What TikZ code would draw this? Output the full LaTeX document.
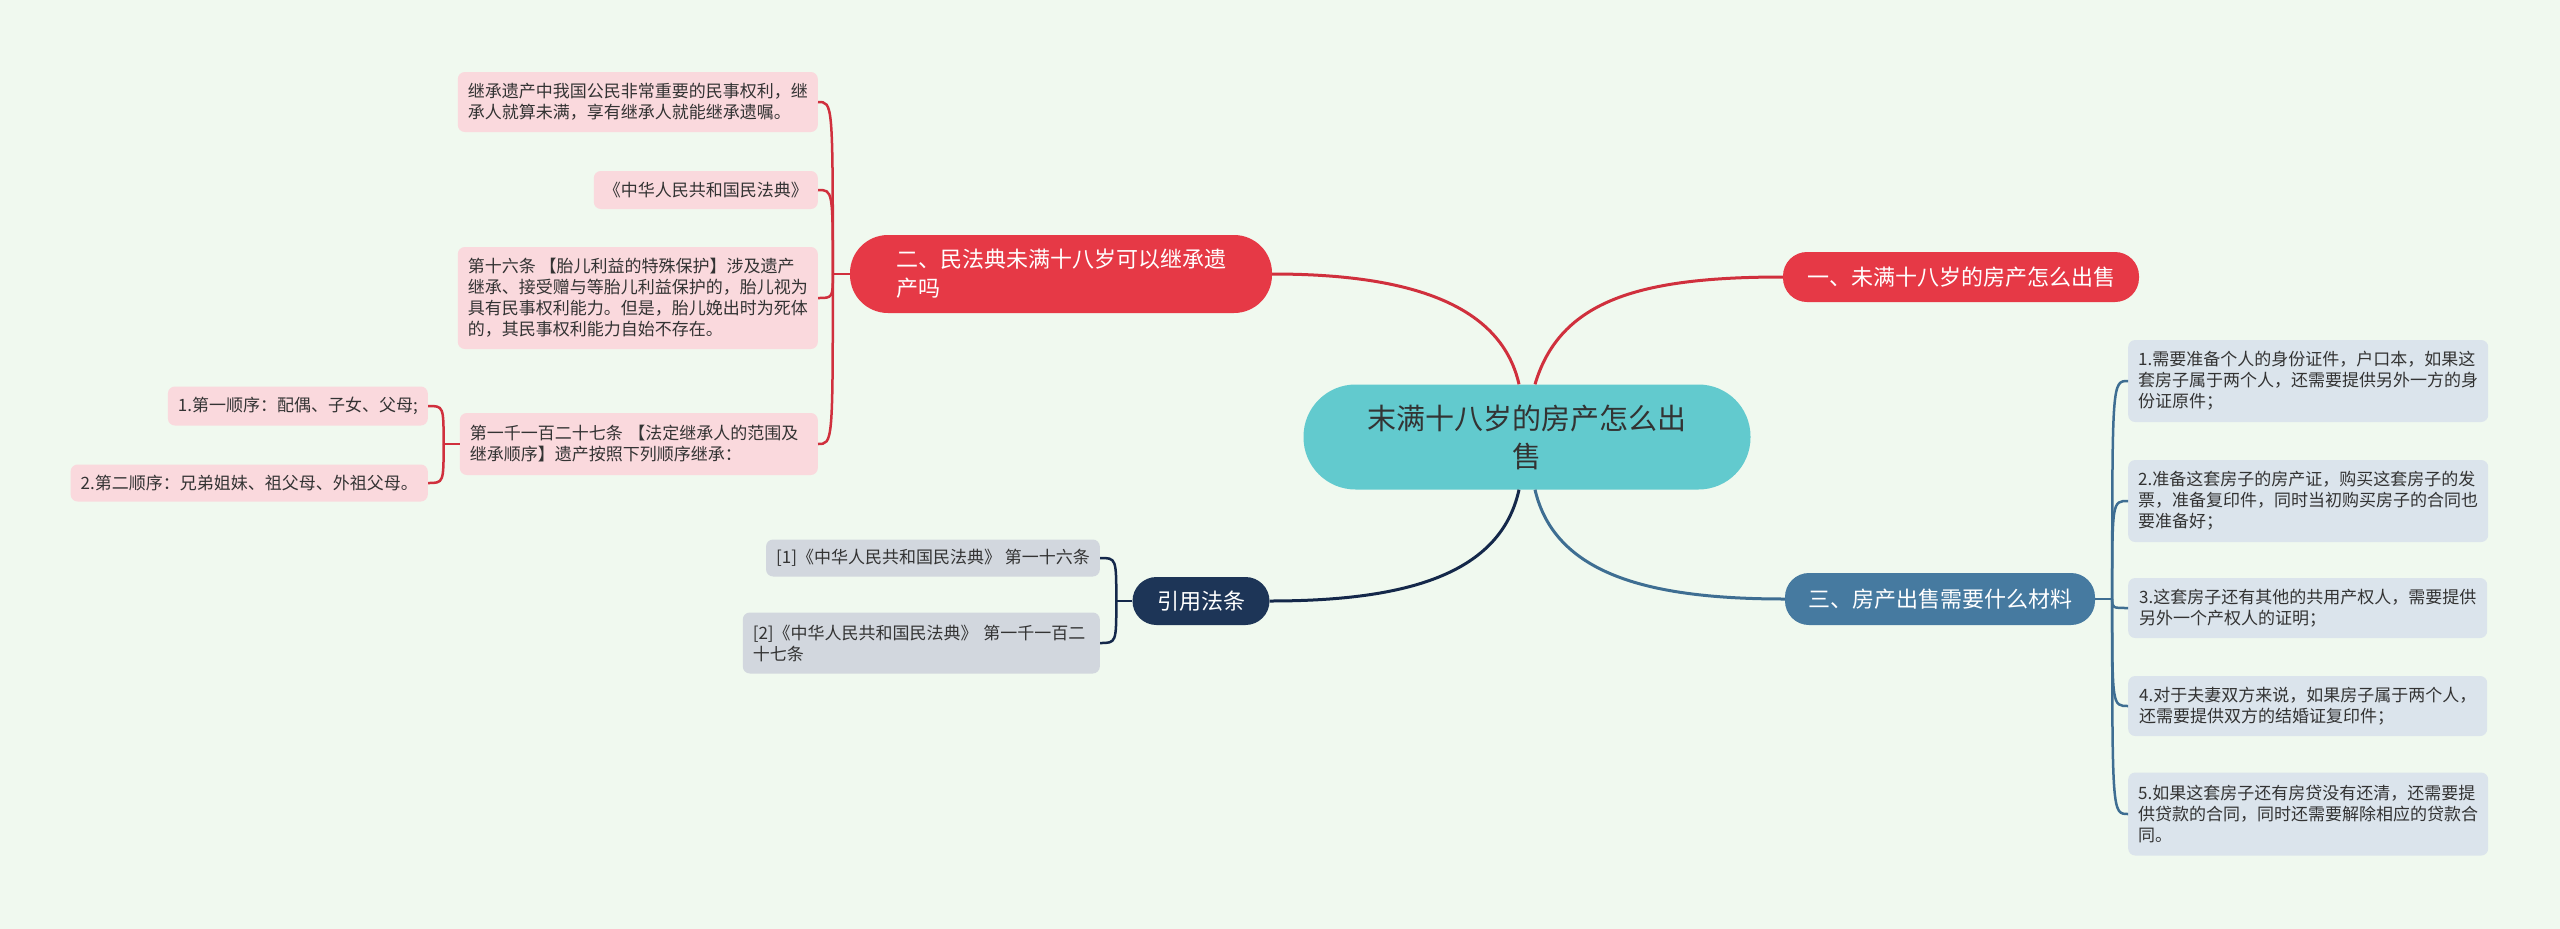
\documentclass[tikz,border=0pt]{standalone}
\usepackage{fontspec}
\setmainfont{Noto Sans CJK SC}
\usepackage{tikz}
\usetikzlibrary{calc}

\definecolor{bgmint}{RGB}{240,249,239}
\definecolor{rootteal}{RGB}{98,202,206}
\definecolor{topicred}{RGB}{230,57,70}
\definecolor{linered}{RGB}{208,48,61}
\definecolor{topicblue}{RGB}{70,122,160}
\definecolor{lineblue}{RGB}{62,110,146}
\definecolor{topicnavy}{RGB}{29,53,87}
\definecolor{linenavy}{RGB}{20,40,74}
\definecolor{leafpink}{RGB}{250,217,221}
\definecolor{leafblue}{RGB}{219,228,236}
\definecolor{leafgray}{RGB}{210,215,222}
\definecolor{txtdark}{RGB}{51,51,51}

\begin{document}
\begin{tikzpicture}[x=1pt,y=-1pt,
  root/.style={fill=rootteal,rounded corners=52pt,minimum width=447,minimum height=105,
    text=txtdark,align=center,font=\fontsize{29}{38}\selectfont},
  topic/.style={rounded corners=24pt,minimum height=50,inner xsep=12pt,
    text=white,align=left,font=\fontsize{22}{29}\selectfont},
  leaf/.style={rounded corners=7pt,inner xsep=10pt,inner ysep=6pt,
    text=txtdark,align=left,font=\fontsize{17}{21}\selectfont},
  wire/.style={line width=3pt},
  twig/.style={line width=2.5pt}]

\fill[bgmint] (0,0) rectangle (2560,929);

%% centre and main topics
\node[root] (root) at (1527,437) {末满十八岁的房产怎么出\\售};
\node[topic,fill=topicred,minimum width=356] (sell) at (1961,277) {一、未满十八岁的房产怎么出售};
\node[topic,fill=topicred,minimum width=422,minimum height=78,rounded corners=38pt] (inherit) at (1061,274)
  {二、民法典未满十八岁可以继承遗\\产吗};
\node[topic,fill=topicblue,minimum width=310,minimum height=52] (papers) at (1940,599) {三、房产出售需要什么材料};
\node[topic,fill=topicnavy,minimum width=137,minimum height=48] (law) at (1201,601) {引用法条};

\draw[wire,linered] ([xshift=8pt]root.north) .. controls (1560,300) and (1640,277) .. (sell.west);
\draw[wire,linered] ([xshift=-8pt]root.north) .. controls (1500,300) and (1400,274) .. (inherit.east);
\draw[wire,lineblue] ([xshift=8pt]root.south) .. controls (1555,575) and (1650,599) .. (papers.west);
\draw[wire,linenavy] ([xshift=-8pt]root.south) .. controls (1500,577) and (1400,601) .. (law.east);

%% inheritance branch
\node[leaf,fill=leafpink,anchor=east,minimum width=358,minimum height=60] (ia) at (818,102)
  {继承遗产中我国公民非常重要的民事权利，继\\承人就算未满，享有继承人就能继承遗嘱。};
\node[leaf,fill=leafpink,anchor=east,minimum width=220,minimum height=38] (ib) at (818,190)
  {《中华人民共和国民法典》};
\node[leaf,fill=leafpink,anchor=east,minimum width=358,minimum height=102] (ic) at (818,298)
  {第十六条 【胎儿利益的特殊保护】涉及遗产\\继承、接受赠与等胎儿利益保护的，胎儿视为\\具有民事权利能力。但是，胎儿娩出时为死体\\的，其民事权利能力自始不存在。};
\node[leaf,fill=leafpink,anchor=east,text width=338,minimum height=62] (id) at (818,444)
  {第一千一百二十七条 【法定继承人的范围及\\继承顺序】遗产按照下列顺序继承：};
\node[leaf,fill=leafpink,anchor=east,minimum width=257,minimum height=39] (ord1) at (428,406)
  {1.第一顺序：配偶、子女、父母;};
\node[leaf,fill=leafpink,anchor=east,minimum width=355,minimum height=37] (ord2) at (428,483)
  {2.第二顺序：兄弟姐妹、祖父母、外祖父母。};

\coordinate (ij) at ([xshift=-17pt]inherit.west);
\draw[twig,linered] (inherit.west) -- (ij);
\foreach \n in {ia,ib,ic,id}
  \draw[twig,linered] (ij) .. controls (ij |- \n.east) .. (\n.east);
\coordinate (oj) at ([xshift=-16pt]id.west);
\draw[twig,linered] (id.west) -- (oj);
\foreach \n in {ord1,ord2}
  \draw[twig,linered] (oj) .. controls (oj |- \n.east) .. (\n.east);

%% cited articles
\node[leaf,fill=leafgray,anchor=east,minimum width=333,minimum height=37] (ref1) at (1100,558)
  {[1]《中华人民共和国民法典》 第一十六条};
\node[leaf,fill=leafgray,anchor=east,text width=337,minimum height=61] (ref2) at (1100,643)
  {[2]《中华人民共和国民法典》 第一千一百二\\十七条};

\coordinate (lj) at ([xshift=-16pt]law.west);
\draw[twig,linenavy] (law.west) -- (lj);
\foreach \n in {ref1,ref2}
  \draw[twig,linenavy] (lj) .. controls (lj |- \n.east) .. (\n.east);

%% materials branch
\node[leaf,fill=leafblue,anchor=west,minimum width=359,minimum height=82] (p1) at (2128,381)
  {1.需要准备个人的身份证件，户口本，如果这\\套房子属于两个人，还需要提供另外一方的身\\份证原件；};
\node[leaf,fill=leafblue,anchor=west,minimum width=359,minimum height=82] (p2) at (2128,501)
  {2.准备这套房子的房产证，购买这套房子的发\\票，准备复印件，同时当初购买房子的合同也\\要准备好；};
\node[leaf,fill=leafblue,anchor=west,minimum width=359,minimum height=60] (p3) at (2128,608)
  {3.这套房子还有其他的共用产权人，需要提供\\另外一个产权人的证明；};
\node[leaf,fill=leafblue,anchor=west,minimum width=359,minimum height=60] (p4) at (2128,706)
  {4.对于夫妻双方来说，如果房子属于两个人，\\还需要提供双方的结婚证复印件；};
\node[leaf,fill=leafblue,anchor=west,minimum width=359,minimum height=83] (p5) at (2128,814)
  {5.如果这套房子还有房贷没有还清，还需要提\\供贷款的合同，同时还需要解除相应的贷款合\\同。};

\coordinate (pj) at ([xshift=17pt]papers.east);
\draw[twig,lineblue] (papers.east) -- (pj);
\foreach \n in {p1,p2,p3,p4,p5}
  \draw[twig,lineblue] (pj) .. controls (pj |- \n.west) .. (\n.west);
\end{tikzpicture}
\end{document}
